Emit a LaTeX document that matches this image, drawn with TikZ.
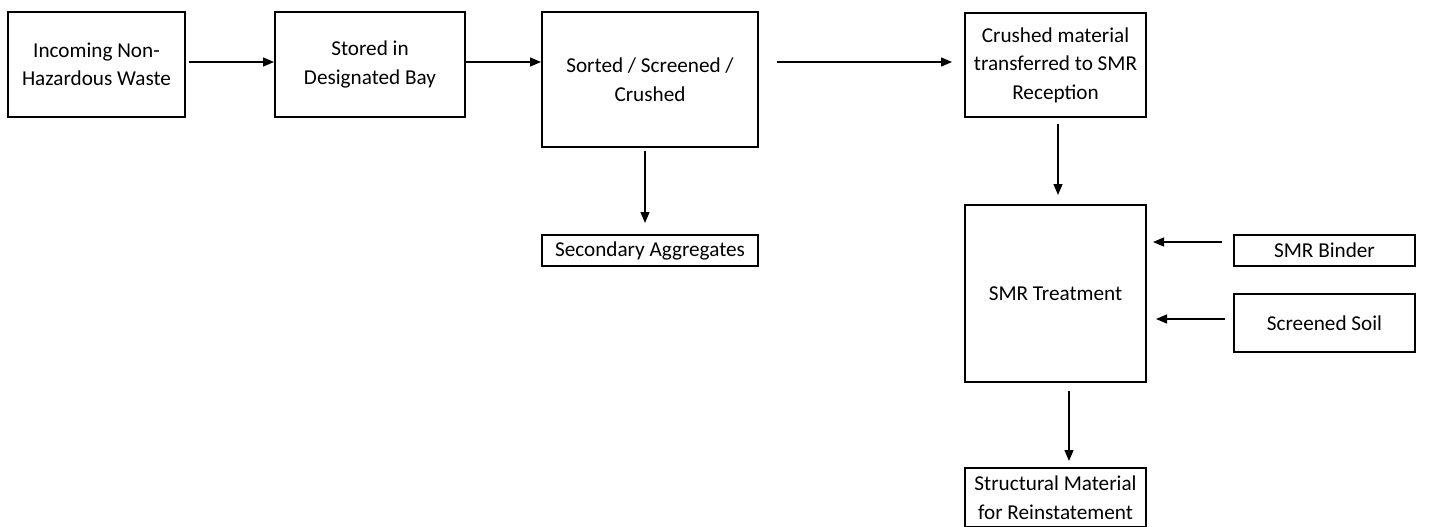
\documentclass[tikz,border=0pt]{standalone}
\usepackage{fontspec}
\setmainfont{Carlito}
\usetikzlibrary{arrows.meta}
\tikzset{
  box/.style={draw=black, line width=2pt, inner sep=0pt, align=center,
    font=\fontsize{21.2pt}{28.5pt}\selectfont},
  arr/.style={line width=1.3pt, -{Triangle[length=11pt,width=9pt]}},
}
\begin{document}
\begin{tikzpicture}[x=1pt,y=-1pt]
\useasboundingbox (0,0) rectangle (1432,527);
\node[box, minimum width=177pt, minimum height=105pt] (b1) at (96.5,64.5) {Incoming Non-\\Hazardous Waste};
\node[box, minimum width=190pt, minimum height=105pt] (b2) at (370,64.5) {Stored in\\Designated Bay};
\node[box, minimum width=216pt, minimum height=135pt] (b3) at (650,79.5) {Sorted / Screened /\\Crushed};
\node[box, minimum width=181pt, minimum height=104pt] (b4) at (1055.5,65) {Crushed material\\transferred to SMR\\Reception};
\node[box, minimum width=216pt, minimum height=31pt] (b5) at (650,250.5) {Secondary Aggregates};
\node[box, minimum width=181pt, minimum height=177pt] (b6) at (1055.5,293.5) {SMR Treatment};
\node[box, minimum width=181pt, minimum height=31pt] (b7) at (1324.5,250.5) {SMR Binder};
\node[box, minimum width=181pt, minimum height=58pt] (b8) at (1324.5,323) {Screened Soil};
\node[box, minimum width=181pt, minimum height=59pt] (b9) at (1055.5,497.5) {Structural Material\\for Reinstatement};

\draw[arr, shorten <=3pt] ([yshift=2.5pt]b1.east) -- ([yshift=2.5pt]b1.east -| b2.west);
\draw[arr] ([yshift=2.5pt]b2.east) -- ([yshift=2.5pt]b2.east -| b3.west);
\draw[arr, shorten <=18pt, shorten >=12pt] ([yshift=3pt]b4.west -| b3.east) -- ([yshift=3pt]b4.west);
\draw[arr, shorten <=3pt, shorten >=11pt] ([xshift=-5pt]b3.south) -- ([xshift=-5pt]b5.north);
\draw[arr, shorten <=6pt, shorten >=9pt] ([xshift=2.5pt]b4.south) -- ([xshift=2.5pt]b6.north);
\draw[arr, shorten <=11pt, shorten >=6pt] ([yshift=8.5pt]b7.west) -- ([yshift=8.5pt]b7.west -| b6.east);
\draw[arr, shorten <=8pt, shorten >=9pt] ([yshift=4pt]b8.west) -- ([yshift=4pt]b8.west -| b6.east);
\draw[arr, shorten <=8pt, shorten >=6pt] ([xshift=13.5pt]b6.south) -- ([xshift=13.5pt]b9.north);
\end{tikzpicture}
\end{document}
